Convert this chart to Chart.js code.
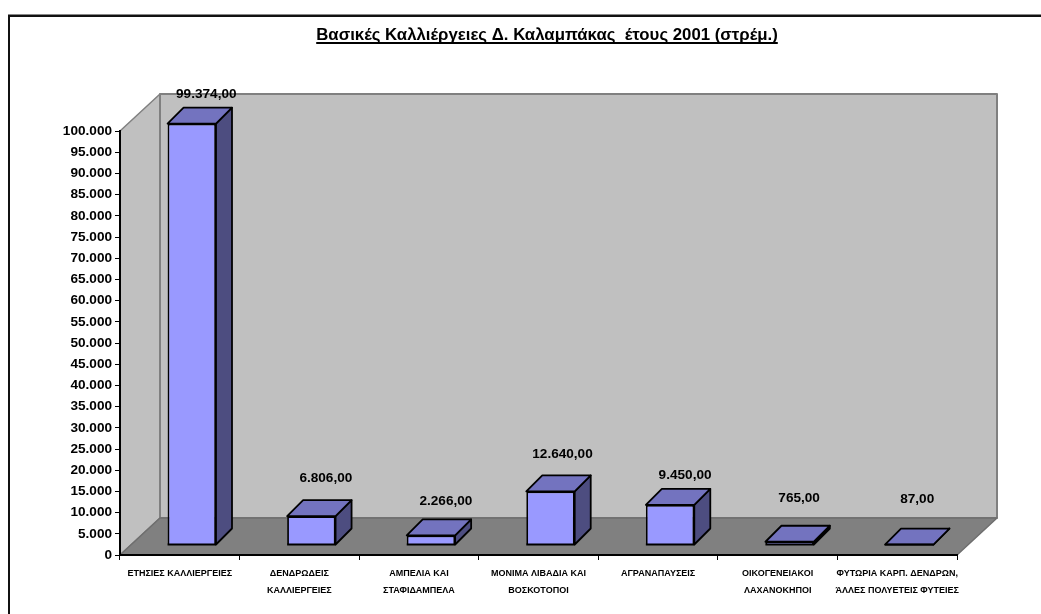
<!DOCTYPE html>
<html><head><meta charset="utf-8">
<style>html,body{margin:0;padding:0;background:#fff;overflow:hidden}canvas{display:block}</style>
<script src="https://cdn.jsdelivr.net/npm/chart.js@4/dist/chart.umd.min.js"></script>
</head><body>
<canvas id="c" width="1041" height="614"></canvas>
<script>
const categories = [
  ['ΕΤΗΣΙΕΣ ΚΑΛΛΙΕΡΓΕΙΕΣ',''],
  ['ΔΕΝΔΡΩΔΕΙΣ','ΚΑΛΛΙΕΡΓΕΙΕΣ'],
  ['ΑΜΠΕΛΙΑ ΚΑΙ','ΣΤΑΦΙΔΑΜΠΕΛΑ'],
  ['ΜΟΝΙΜΑ ΛΙΒΑΔΙΑ ΚΑΙ','ΒΟΣΚΟΤΟΠΟΙ'],
  ['ΑΓΡΑΝΑΠΑΥΣΕΙΣ',''],
  ['ΟΙΚΟΓΕΝΕΙΑΚΟΙ','ΛΑΧΑΝΟΚΗΠΟΙ'],
  ['ΦΥΤΩΡΙΑ ΚΑΡΠ. ΔΕΝΔΡΩΝ,','ΆΛΛΕΣ ΠΟΛΥΕΤΕΙΣ ΦΥΤΕΙΕΣ']
];
const values = [99374, 6806, 2266, 12640, 9450, 765, 87];
const valueLabels = ['99.374,00','6.806,00','2.266,00','12.640,00','9.450,00','765,00','87,00'];
const titleText = 'Βασικές Καλλιέργειες Δ. Καλαμπάκας  έτους 2001 (στρέμ.)';

// label placement relative to each bar, as the source chart places them by hand
const labelDx = [14.5,14.5,15,12,15,9.5,8];
const labelRise = [39.7,48,44.4,47,40,54,55.6];

const SANS = '"Liberation Sans",Arial,sans-serif';
const WALL = {dx:40, dy:-37}, BAR = {dx:16, dy:-16}, SHIFT = {x:12, y:-10};
const EDGE = 1.8;

function poly(ctx, pts, fill, stroke, lw){
  ctx.beginPath();
  pts.forEach((p,i)=> i?ctx.lineTo(p[0],p[1]):ctx.moveTo(p[0],p[1]));
  ctx.closePath();
  if(fill){ctx.fillStyle=fill;ctx.fill();}
  if(stroke){ctx.strokeStyle=stroke;ctx.lineWidth=lw;ctx.lineJoin='round';ctx.stroke();}
}

const scene = {
  id:'scene',
  afterLayout(chart){
    // the title sits a little right of the canvas centre
    const t = chart.titleBlock;
    t.left = 53; t.right = 1041;
  },
  beforeDraw(chart){
    const ctx = chart.ctx, a = chart.chartArea;
    const L=a.left,R=a.right,T=a.top,B=a.bottom,dx=WALL.dx,dy=WALL.dy;
    ctx.save();
    // outer frame
    ctx.fillStyle='#888'; ctx.fillRect(8,14,1033,1);
    ctx.fillStyle='#111'; ctx.fillRect(8,15,1033,2); ctx.fillRect(8,15,2,599);
    // walls and floor
    poly(ctx,[[L,B],[L+dx,B+dy],[L+dx,T+dy],[L,T]],'#C0C0C0','#808080',1.5);
    poly(ctx,[[L+dx,T+dy],[R+dx,T+dy],[R+dx,B+dy],[L+dx,B+dy]],'#C0C0C0','#808080',2);
    poly(ctx,[[L,B],[R,B],[R+dx,B+dy],[L+dx,B+dy]],'#808080','#6e6e6e',1.5);
    ctx.restore();
  },
  beforeDatasetDraw(chart){
    chart.ctx.save();
    chart.ctx.translate(SHIFT.x, SHIFT.y);
  },
  afterDatasetDraw(chart,args){
    const ctx = chart.ctx;
    ctx.restore();
    ctx.save();
    args.meta.data.forEach(el=>{
      const l=el.x-el.width/2+SHIFT.x, r=el.x+el.width/2+SHIFT.x;
      const t=el.y+SHIFT.y, b=el.base+SHIFT.y, dx=BAR.dx, dy=BAR.dy;
      poly(ctx,[[r,t],[r+dx,t+dy],[r+dx,b+dy],[r,b]],'#4D4D80','#000',EDGE);
      poly(ctx,[[l,t],[r,t],[r+dx,t+dy],[l+dx,t+dy]],'#7373BF','#000',EDGE);
      // closing line under the front face
      ctx.strokeStyle='#000'; ctx.lineWidth=EDGE;
      ctx.beginPath(); ctx.moveTo(l,b); ctx.lineTo(r,b); ctx.stroke();
    });
    ctx.restore();
  },
  afterDraw(chart){
    const ctx = chart.ctx, meta = chart.getDatasetMeta(0);
    ctx.save();
    ctx.fillStyle='#000';
    ctx.textAlign='center'; ctx.textBaseline='middle';
    ctx.font='bold 13.6px '+SANS;
    meta.data.forEach((el,i)=>{
      ctx.fillText(valueLabels[i], el.x+SHIFT.x+labelDx[i], el.y-labelRise[i]);
    });
    // title underline
    ctx.font='bold 16.8px '+SANS;
    const w = ctx.measureText(titleText).width;
    ctx.fillRect(547-w/2, 42, w, 2);
    ctx.restore();
  }
};

new Chart(document.getElementById('c'),{
  type:'bar',
  data:{labels:categories,datasets:[{
    data:values,
    backgroundColor:'#9999FF',
    borderColor:'#000',
    borderWidth:EDGE,
    barPercentage:0.405,
    categoryPercentage:1,
    clip:false
  }]},
  plugins:[scene],
  options:{
    responsive:false,
    animation:false,
    events:[],
    layout:{padding:{right:84}},
    plugins:{
      legend:{display:false},
      tooltip:{enabled:false},
      title:{display:true,text:titleText,color:'#000',
        font:{family:SANS,size:16.8,weight:'bold',lineHeight:1.2},
        padding:{top:25,bottom:85.84}}
    },
    scales:{
      x:{
        afterFit(s){s.height=59;},
        grid:{drawOnChartArea:false,tickLength:5,color:'#000',lineWidth:1,offset:true},
        border:{color:'#000',width:2},
        ticks:{color:'#000',maxRotation:0,minRotation:0,autoSkip:false,padding:5,
          font:{family:SANS,size:9,weight:'bold',lineHeight:1.9}}
      },
      y:{
        min:0,max:100000,
        afterFit(s){s.width=120;},
        grid:{drawOnChartArea:false,tickLength:5,color:'#000',lineWidth:1},
        border:{color:'#000',width:2},
        ticks:{color:'#000',stepSize:5000,autoSkip:false,padding:3,
          font:{family:SANS,size:13.6,weight:'bold'},
          callback:v=>String(v).replace(/\B(?=(\d{3})+$)/g,'.')}
      }
    }
  }
});
</script>
</body></html>
